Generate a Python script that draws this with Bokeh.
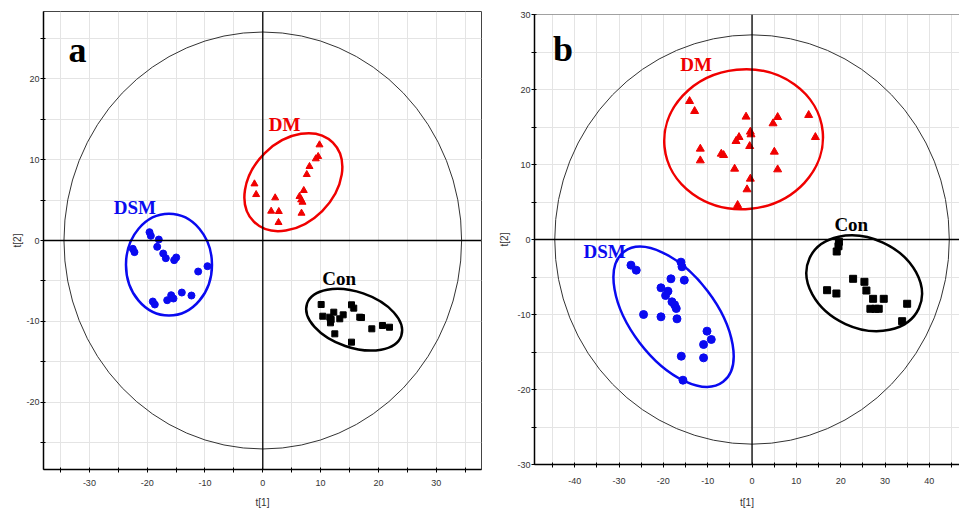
from bokeh.plotting import figure
from bokeh.layouts import row, column
from bokeh.models import Span, FixedTicker, Range1d
from bokeh.core.properties import value
from bokeh.embed import file_html
from bokeh.resources import INLINE

# ---------------- Panel a data ----------------
a_dm_x = [9.81, 9.58, 9.17, 8.08, 7.61, 7.09, 6.35, 6.64, 6.87, 6.70, 2.14, 1.45, 2.77, 2.72, -1.44, -1.15]
a_dm_y = [11.84, 10.40, 10.11, 9.16, 8.17, 6.19, 5.45, 5.03, 4.74, 3.38, 5.28, 3.63, 3.59, 2.23, 7.01, 5.69]
a_dsm_x = [-19.60, -19.37, -17.99, -18.27, -22.49, -22.20, -17.23, -16.78, -14.98, -15.33, -11.18, -9.57,
           -19.03, -18.68, -16.54, -15.85, -15.45, -14.01, -12.34]
a_dsm_y = [1.03, 0.58, 0.12, -0.78, -1.03, -1.44, -1.61, -2.19, -2.10, -2.43, -3.84, -3.18,
           -7.55, -7.92, -7.39, -6.77, -7.18, -6.44, -6.81]
a_con_x = [10.10, 10.38, 11.59, 12.28, 11.71, 11.83, 12.46, 13.32, 13.91, 15.35, 15.74, 16.78, 17.08,
           15.35, 18.86, 20.71, 21.92]
a_con_y = [-7.92, -9.37, -9.49, -8.87, -10.19, -9.78, -11.55, -9.69, -9.20, -7.96, -8.37, -9.49, -9.53,
           -12.58, -10.93, -10.52, -10.73]
# group ellipses: centre x, centre y, width, height, angle (rad)
a_ell_cx = [5.29, -16.23, 15.81]
a_ell_cy = [7.22, -2.99, -9.80]
a_ell_w = [19.34, 14.88, 17.23]
a_ell_h = [10.10, 12.59, 6.88]
a_ell_ang = [0.785, 0.0, -0.33]
a_t2 = [68.8, 51.6]
a_lab_x = [1.04, -25.78, 10.28]
a_lab_y = [13.6, 3.30, -5.45]
a_xticks = [-30, -20, -10, 0, 10, 20, 30]
a_xminor = [-35, -25, -15, -5, 5, 15, 25, 35]
a_yticks = [-20, -10, 0, 10, 20]
a_yminor = [-25, -15, -5, 5, 15, 25]

# ---------------- Panel b data ----------------
b_dm_x = [-14.09, -12.95, -1.35, -0.38, -0.23, -2.93, -3.61, -0.53, -11.67, -11.67, -6.93, -6.41, -3.93,
          -0.38, -1.13, -3.25, 4.74, 5.78, 5.03, 5.78, 12.78, 14.29]
b_dm_y = [18.44, 17.11, 16.36, 14.36, 14.00, 13.64, 13.11, 12.44, 12.09, 10.53, 11.42, 11.24, 9.42,
          8.09, 6.67, 4.58, 15.47, 16.31, 11.69, 9.33, 16.58, 13.64]
b_dsm_x = [-27.31, -26.12, -16.03, -15.80, -18.29, -15.28, -20.54, -18.96, -19.50, -18.06, -17.47, -17.09,
           -24.47, -20.54, -16.93, -10.16, -9.19, -10.93, -15.96, -10.93, -15.58]
b_dsm_y = [-3.42, -4.09, -3.02, -3.64, -5.24, -5.42, -6.44, -6.89, -7.47, -8.31, -8.71, -9.20,
           -10.00, -10.31, -10.58, -12.22, -13.33, -14.00, -15.56, -15.78, -18.76]
b_con_x = [19.6, 19.5, 19.1, 16.93, 19.03, 22.80, 25.35, 25.80, 27.31, 29.71, 26.70, 27.83, 28.58, 34.99, 33.86]
b_con_y = [-0.3, -0.9, -1.6, -6.76, -7.20, -5.24, -5.64, -6.80, -7.91, -7.91, -9.24, -9.24, -9.24, -8.57, -10.89]
b_ell_cx = [-1.90, -17.70, 25.30]
b_ell_cy = [13.37, -10.31, -5.84]
b_ell_w = [35.85, 36.88, 27.13]
b_ell_h = [18.64, 11.39, 11.95]
b_ell_ang = [0.1, -0.92, -0.43]
b_t2 = [89.0, 54.6]
b_lab_x = [-16.19, -38.01, 18.58]
b_lab_y = [22.57, -2.44, 1.24]
b_xticks = [-40, -30, -20, -10, 0, 10, 20, 30, 40]
b_xminor = [-45, -35, -25, -15, -5, 5, 15, 25, 35, 45]
b_yticks = [-30, -20, -10, 0, 10, 20, 30]
b_yminor = [-25, -15, -5, 5, 15, 25]

group_names = ["DM", "DSM", "Con"]
RED = "#f00000"
BLUE = "#0a0af0"
BLACK = "#000000"
colors = [RED, BLUE, BLACK]


def style(p, xt, xm, yt, ym, xstand, xlab_stand, ystand, ylab_stand):
    p.xaxis.ticker = FixedTicker(ticks=xt, minor_ticks=xm)
    p.yaxis.ticker = FixedTicker(ticks=yt, minor_ticks=ym)
    p.xgrid.ticker = FixedTicker(ticks=xt, minor_ticks=xm)
    p.ygrid.ticker = FixedTicker(ticks=yt, minor_ticks=ym)
    p.xaxis.major_label_overrides = {t: str(t) for t in xt}
    p.yaxis.major_label_overrides = {t: str(t) for t in yt}
    for ax in (p.xaxis[0], p.yaxis[0]):
        ax.axis_line_color = "black"
        ax.axis_line_width = 1.5
        ax.major_tick_line_color = "black"
        ax.minor_tick_line_color = "black"
        ax.major_tick_in = 2
        ax.major_tick_out = 3
        ax.minor_tick_in = 2
        ax.minor_tick_out = 3
        ax.major_label_text_font = "Liberation Sans"
        ax.major_label_text_font_size = "9px"
        ax.major_label_text_color = "#333333"
        ax.axis_label_text_font = "Liberation Sans"
        ax.axis_label_text_font_size = "10px"
        ax.axis_label_text_font_style = "normal"
        ax.axis_label_text_color = "#333333"
    p.xaxis.major_label_standoff = xstand
    p.xaxis.axis_label_standoff = xlab_stand
    p.yaxis.major_label_standoff = ystand
    p.yaxis.axis_label_standoff = ylab_stand
    p.grid.grid_line_color = "#e4e4e4"
    p.grid.minor_grid_line_color = "#e4e4e4"
    p.background_fill_color = "white"
    p.border_fill_color = "white"
    p.add_layout(Span(location=0, dimension="height", line_color="black", line_width=1.3))
    p.add_layout(Span(location=0, dimension="width", line_color="black", line_width=1.3))


def panel(width, height, xr, yr, mbl, mbr, mbt, mbb):
    p = figure(width=width, height=height, x_range=Range1d(*xr), y_range=Range1d(*yr),
               output_backend="svg", toolbar_location=None,
               min_border_left=mbl, min_border_right=mbr, min_border_top=mbt, min_border_bottom=mbb,
               x_axis_label="t[1]", y_axis_label="t[2]")
    return p


def labels(p, xs, ys, letter_xy, letter):
    p.text(x=xs, y=ys, text=group_names, text_color=colors,
           text_font=value("Liberation Serif"), text_font_style="bold",
           text_font_size=value("19px"), text_baseline="alphabetic", text_align="left",
           y_offset=-6)
    p.text(x=[letter_xy[0]], y=[letter_xy[1]], text=[letter], text_color="black",
           text_font=value("Liberation Serif"), text_font_style="bold",
           text_font_size=value("36px"), text_baseline="alphabetic", text_align="left",
           y_offset=-10)


# ---------------- Panel a ----------------
pa = panel(484, 511, (-37.94, 37.84), (-28.34, 28.34), 43, 3, 11, 42)
style(pa, a_xticks, a_xminor, a_yticks, a_yminor, 7, 8, 1, 0)
pa.outline_line_color = "#444444"
pa.ellipse(x=[0], y=[0], width=[a_t2[0]], height=[a_t2[1]], fill_color=None,
           line_color="#333333", line_width=1)
pa.ellipse(x=a_ell_cx, y=a_ell_cy, width=a_ell_w, height=a_ell_h, angle=a_ell_ang,
           fill_color=None, line_color=colors, line_width=2.5)
pa.scatter(a_dm_x, a_dm_y, marker="triangle", size=7, color=RED)
pa.scatter(a_dsm_x, a_dsm_y, marker="circle", size=7, color=BLUE)
pa.scatter(a_con_x, a_con_y, marker="square", size=6, color=BLACK)
labels(pa, a_lab_x, a_lab_y, (-33.6, 22.3), "a")

# ---------------- Panel b ----------------
pb = panel(475, 511, (-49.07, 46.8), (-30, 30), 50, 0, 14, 47)
style(pb, b_xticks, b_xminor, b_yticks, b_yminor, 10, 10, 1, 4)
pb.outline_line_color = None
pb.add_layout(Span(location=30, dimension="width", line_color="#444444", line_width=1))
pb.ellipse(x=[0], y=[0], width=[b_t2[0]], height=[b_t2[1]], fill_color=None,
           line_color="#333333", line_width=1)
pb.ellipse(x=b_ell_cx, y=b_ell_cy, width=b_ell_w, height=b_ell_h, angle=b_ell_ang,
           fill_color=None, line_color=colors, line_width=2.5)
pb.scatter(b_dm_x, b_dm_y, marker="triangle", size=8, color=RED)
pb.scatter(b_dsm_x, b_dsm_y, marker="circle", size=8, color=BLUE)
pb.scatter(b_con_x, b_con_y, marker="square", size=7, color=BLACK)
labels(pb, b_lab_x, b_lab_y, (-44.9, 24.1), "b")

layout = row(column(pa), column(pb))
open("out.html", "w").write(file_html(layout, INLINE))
